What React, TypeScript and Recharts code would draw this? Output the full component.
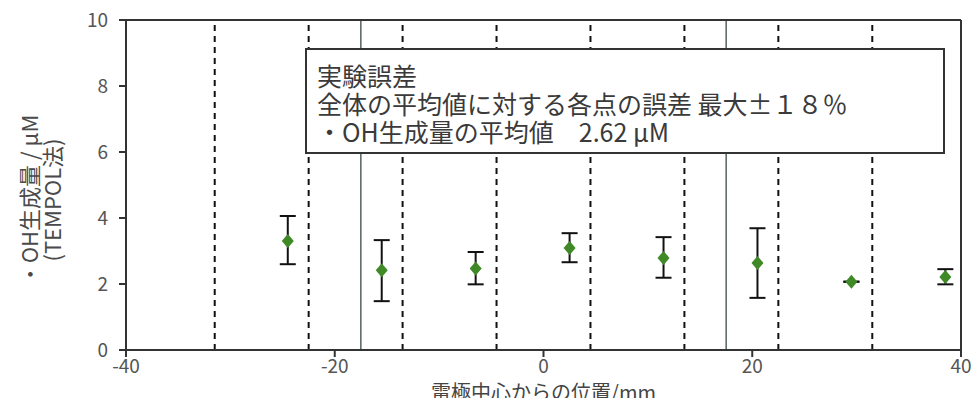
import React from 'react'
import { ComposedChart, Scatter, XAxis, YAxis, ErrorBar, ReferenceLine } from 'recharts'

// positions along the electrode (mm) and measured ·OH yield (µM)
const positions = [-24.5, -15.5, -6.5, 2.5, 11.5, 20.5, 29.5, 38.5]
const values = [3.3, 2.42, 2.47, 3.09, 2.79, 2.64, 2.07, 2.21]
const upper = [4.06, 3.33, 2.97, 3.54, 3.42, 3.69, 2.07, 2.45]
const lower = [2.6, 1.48, 1.99, 2.66, 2.19, 1.58, 2.07, 1.99]

const xTicks = [-40, -20, 0, 20, 40]
const yTicks = [0, 2, 4, 6, 8, 10]
const dashedAt = [-31.5, -22.5, -13.5, -4.5, 4.5, 13.5, 22.5, 31.5]
const solidAt = [-17.5, 17.5]

const noteLines = [
  '実験誤差',
  '全体の平均値に対する各点の誤差 最大±１８％',
  '・OH生成量の平均値　2.62 μM',
]

const FONT = '"Noto Sans CJK JP", "Noto Sans", sans-serif'
const GREEN = '#3f8a26'
const INK = '#333'

const data = positions.map((x, i) => ({
  x,
  y: values[i],
  err: [values[i] - lower[i], upper[i] - values[i]],
}))

const Diamond = (props: any) => {
  const { cx, cy } = props
  if (cx == null || cy == null) return null
  const r = 7
  return <polygon points={`${cx},${cy - r} ${cx + r - 1},${cy} ${cx},${cy + r} ${cx - r + 1},${cy}`} fill={GREEN} />
}

const YLabel = () => (
  <g fontFamily={FONT} fontSize={22} fill="#4a4a4a">
    <text x={28} y={200} transform="rotate(-90 28 200)" textAnchor="middle" dominantBaseline="central">
      ・OH生成量 / μM
    </text>
    <text x={51} y={200} transform="rotate(-90 51 200)" textAnchor="middle" dominantBaseline="central">
      (TEMPOL法)
    </text>
  </g>
)

export default function App() {
  return (
    <div style={{ position: 'absolute', left: 0, top: 0, width: 976, height: 398, background: '#fff' }}>
      <ComposedChart width={976} height={398} data={data} margin={{ top: 20, right: 15, bottom: 0, left: 0 }}>
        {dashedAt.map(v => (
          <ReferenceLine key={v} x={v} stroke="#111" strokeWidth={2} strokeDasharray="6 5" />
        ))}
        {solidAt.map(v => (
          <ReferenceLine key={v} x={v} stroke="#56625f" strokeWidth={1.5} />
        ))}
        <ReferenceLine y={10} stroke={INK} strokeWidth={2} />
        <ReferenceLine x={40} stroke={INK} strokeWidth={2} />
        <XAxis
          type="number"
          dataKey="x"
          domain={[-40, 40]}
          ticks={xTicks}
          height={48}
          tickSize={7}
          tickMargin={3}
          stroke={INK}
          strokeWidth={2}
          tick={{ fill: '#555', fontSize: 19, fontFamily: FONT }}
          label={{ value: '電極中心からの位置/mm', position: 'insideBottom', offset: -2, fill: '#444', fontSize: 20, fontFamily: FONT }}
        />
        <YAxis
          type="number"
          dataKey="y"
          domain={[0, 10]}
          ticks={yTicks}
          width={126}
          tickSize={7}
          tickMargin={11}
          stroke={INK}
          strokeWidth={2}
          tick={{ fill: '#555', fontSize: 19, fontFamily: FONT }}
          label={<YLabel />}
        />
        <Scatter dataKey="y" shape={<Diamond />} isAnimationActive={false}>
          <ErrorBar dataKey="err" direction="y" width={8} stroke="#111" strokeWidth={2} isAnimationActive={false} />
        </Scatter>
      </ComposedChart>
      <div
        style={{
          position: 'absolute',
          left: 305,
          top: 48,
          width: 640,
          height: 106,
          boxSizing: 'border-box',
          border: `2px solid ${INK}`,
          background: '#fff',
          padding: '11px 10px',
          fontFamily: FONT,
          fontSize: 25,
          lineHeight: '28px',
          color: '#3a3a3a',
        }}
      >
        {noteLines.map(l => (
          <div key={l} style={{ whiteSpace: 'nowrap' }}>{l}</div>
        ))}
      </div>
    </div>
  )
}
